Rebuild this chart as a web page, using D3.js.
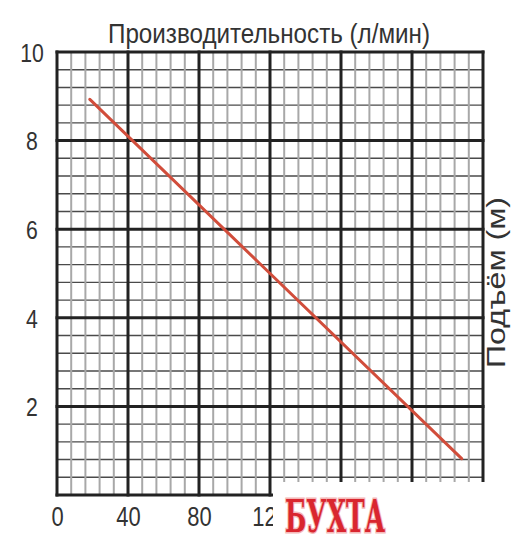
<!DOCTYPE html>
<html>
<head>
<meta charset="utf-8">
<script src="https://cdn.jsdelivr.net/npm/d3@7"></script>
<style>
  body { margin: 0; background: #fff; }
  svg { display: block; }
</style>
</head>
<body>
<div id="viz-container"></div>
<script>
'use strict';

// Chart values
const flowTicks = [0, 40, 80, 120];
const headTicks = [2, 4, 6, 8, 10];
const flow = [18.5, 228];    // л/мин
const head = [8.93, 0.82];   // м

const xTitle = 'Производительность (л/мин)';
const yTitle = 'Подъём (м)';

const width = 530, height = 548;
const font = '"Liberation Sans", Arial, sans-serif';

const svg = d3.select('#viz-container')
    .append('svg')
    .attr('width', width)
    .attr('height', height);

const x = d3.scaleLinear().domain([0, 240]).range([57, 483]);
const y = d3.scaleLinear().domain([0, 10]).range([495, 52]);

// Grid
const grid = svg.append('g');
const minorX = d3.range(0, 31).map(i => i * 8).filter(v => v % 40 !== 0);
const minorY = d3.range(0, 26).map(i => +(i * 0.4).toFixed(1)).filter(v => Math.abs(v / 2 - Math.round(v / 2)) > 1e-6);

grid.selectAll('.minor-y')
    .data(minorY)
    .enter().append('line')
    .attr('x1', x(0)).attr('x2', x(240))
    .attr('y1', d => y(d)).attr('y2', d => y(d))
    .attr('stroke', '#4a4a4a').attr('stroke-width', 1.4);

grid.selectAll('.minor-x')
    .data(minorX)
    .enter().append('line')
    .attr('x1', d => x(d)).attr('x2', d => x(d))
    .attr('y1', y(0)).attr('y2', y(10))
    .attr('stroke', '#a8a8a8').attr('stroke-width', 2);

grid.selectAll('.major-y')
    .data(d3.range(0, 11, 2))
    .enter().append('line')
    .attr('x1', x(0) - 1.5).attr('x2', x(240) + 1.5)
    .attr('y1', d => y(d)).attr('y2', d => y(d))
    .attr('stroke', '#222').attr('stroke-width', 3);

grid.selectAll('.major-x')
    .data(d3.range(0, 241, 40))
    .enter().append('line')
    .attr('x1', d => x(d)).attr('x2', d => x(d))
    .attr('y1', y(0) + 1.5).attr('y2', y(10) - 1.5)
    .attr('stroke', '#222').attr('stroke-width', 3);

// Curve
svg.append('path')
    .datum(d3.zip(flow, head))
    .attr('fill', 'none')
    .attr('stroke', '#d14d3b')
    .attr('stroke-width', 3)
    .attr('stroke-linecap', 'round')
    .attr('d', d3.line().x(d => x(d[0])).y(d => y(d[1])));

// Axes labels (narrow look via textLength)
const xAxis = svg.append('g')
    .attr('transform', 'translate(0,' + 505 + ')')
    .call(d3.axisBottom(x).tickValues(flowTicks).tickSize(0).tickPadding(0).tickFormat(d3.format('d')));
xAxis.select('.domain').remove();
xAxis.selectAll('text')
    .attr('font-family', font).attr('font-size', 27).attr('fill', '#333')
    .attr('dy', '0.78em')
    .attr('textLength', d => String(d).length * 12.2)
    .attr('lengthAdjust', 'spacingAndGlyphs');

const yAxis = svg.append('g')
    .attr('transform', 'translate(32,0)')
    .call(d3.axisLeft(y).tickValues(headTicks).tickSize(0).tickPadding(0).tickFormat(d3.format('d')));
yAxis.select('.domain').remove();
yAxis.selectAll('text')
    .attr('font-family', font).attr('font-size', 26).attr('fill', '#333')
    .attr('text-anchor', 'middle').attr('dy', '0.36em')
    .attr('textLength', d => String(d).length * 11.8)
    .attr('lengthAdjust', 'spacingAndGlyphs');

// Titles
svg.append('text')
    .attr('x', 269).attr('y', 43)
    .attr('text-anchor', 'middle')
    .attr('font-family', font).attr('font-size', 27).attr('fill', '#333')
    .attr('textLength', 322).attr('lengthAdjust', 'spacingAndGlyphs')
    .text(xTitle);

svg.append('text')
    .attr('transform', 'translate(505,282.5) rotate(-90)')
    .attr('text-anchor', 'middle')
    .attr('font-family', font).attr('font-size', 26).attr('fill', '#333')
    .attr('textLength', 171).attr('lengthAdjust', 'spacingAndGlyphs')
    .text(yTitle);

// Watermark patch
svg.append('rect')
    .attr('x', 273).attr('y', 482)
    .attr('width', width - 273).attr('height', height - 482)
    .attr('fill', '#fff');

svg.append('text')
    .attr('x', 335).attr('y', 532)
    .attr('text-anchor', 'middle')
    .attr('font-family', '"DejaVu Serif Condensed", "DejaVu Serif", serif')
    .attr('font-weight', 'bold')
    .attr('font-size', 44)
    .attr('fill', '#d9262f')
    .attr('stroke', '#f4b8b8').attr('stroke-width', 3)
    .attr('paint-order', 'stroke')
    .attr('textLength', 100).attr('lengthAdjust', 'spacingAndGlyphs')
    .text('БУХТА');
</script>
</body>
</html>
